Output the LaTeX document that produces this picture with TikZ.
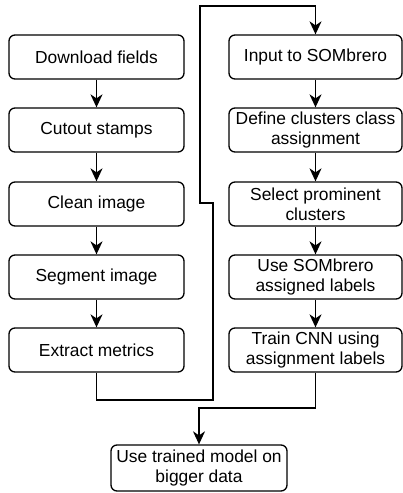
\documentclass[tikz,border=0pt]{standalone}
\usepackage{fontspec}
\setmainfont{Liberation Sans}
\usetikzlibrary{arrows.meta}
\begin{document}
\begin{tikzpicture}[x=1pt,y=-1pt,
  box/.style={draw, line width=1.3pt, rounded corners=6pt, minimum width=175pt, minimum height=44pt,
    align=center, inner sep=0pt, font=\fontsize{17.4}{20}\selectfont},
  arr/.style={line width=1.3pt, -{Stealth[length=13pt,width=12pt,inset=4pt]}},
  ln/.style={line width=1.3pt}]
\useasboundingbox (0,0) rectangle (403,493);
\node[box] (d) at (96.5,57) {Download fields};
\node[box] (c) at (96.5,130) {Cutout stamps};
\node[box] (cl) at (96.5,204) {Clean image};
\node[box] (s) at (96.5,277) {Segment image};
\node[box] (e) at (96.5,350) {Extract metrics};
\node[box, minimum width=173pt] (in) at (315.5,57) {Input to SOMbrero};
\node[box, minimum width=173pt] (df) at (315.5,130) {Define clusters class\\assignment};
\node[box, minimum width=173pt] (sp) at (315.5,204) {Select prominent\\clusters};
\node[box, minimum width=173pt] (us) at (315.5,277) {Use SOMbrero\\assigned labels};
\node[box, minimum width=173pt] (tr) at (315.5,350) {Train CNN using\\assignment labels};
\node[box, minimum width=176pt, minimum height=46pt] (ut) at (199,468) {Use trained model on\\bigger data};
\coordinate (a1) at (96.5,400);
\coordinate (a2) at (213,400);
\coordinate (a3) at (213,203);
\coordinate (a4) at (200,203);
\coordinate (a5) at (200,6);
\coordinate (b1) at (315.5,408);
\draw[arr] (d) -- (c);
\draw[arr] (c) -- (cl);
\draw[arr] (cl) -- (s);
\draw[arr] (s) -- (e);
\draw[arr] (in) -- (df);
\draw[arr] (df) -- (sp);
\draw[arr] (sp) -- (us);
\draw[arr] (us) -- (tr);
\draw[arr] (e.south) -- (a1) -- (a2) -- (a3) -- (a4) -- (a5) -| (in.north);
\draw[arr] (tr.south) -- (b1) -| (ut.north);
\end{tikzpicture}
\end{document}
